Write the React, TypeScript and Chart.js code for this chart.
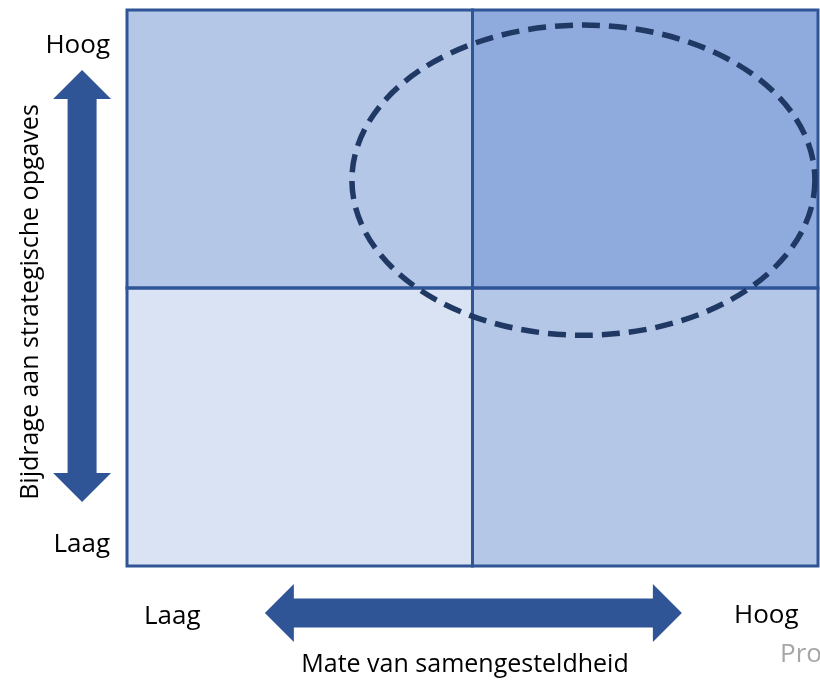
import React, { useEffect, useRef } from "react";
import { Chart, registerables } from "chart.js";

Chart.register(...registerables);

// ---- data ----
const xLevels = ["Laag", "Hoog"];
const yLevels = ["Laag", "Hoog"];
const xAxisTitle = "Mate van samengesteldheid";
const yAxisTitle = "Bijdrage aan strategische opgaves";
const footerText = "Pro";

// quadrant cells in matrix units (x from 0..2, y from 0..2)
const cellX0 = [0, 1, 0, 1];
const cellX1 = [1, 2, 1, 2];
const cellY0 = [1, 1, 0, 0];
const cellY1 = [2, 2, 1, 1];
const cellColors = ["#B4C7E7", "#8FAADC", "#DAE3F3", "#B4C7E7"];

// highlighted region (ellipse) in matrix units
const ellipseCenter = [1.321, 1.388];
const ellipseRadii = [0.67, 0.558];

// axis arrows in matrix units
const vArrowX = -0.13;
const vArrowEnds = [0.23, 1.784];
const hArrowY = -0.169;
const hArrowEnds = [0.399, 1.606];

const FONT = "25px 'Open Sans', 'Noto Sans', sans-serif";
const LABEL_FONT = "26px 'Open Sans', 'Noto Sans', sans-serif";
const ARROW_COLOR = "#2F5597";

const matrixPlugin = {
  id: "matrixPlugin",
  afterDraw(chart: any) {
    const ctx: CanvasRenderingContext2D = chart.ctx;
    const xs = chart.scales.x;
    const ys = chart.scales.y;
    const px = (v: number) => xs.getPixelForValue(v);
    const py = (v: number) => ys.getPixelForValue(v);

    ctx.save();
    // cells
    for (let i = 0; i < cellColors.length; i++) {
      const x0 = px(cellX0[i]);
      const x1 = px(cellX1[i]);
      const y0 = py(cellY1[i]);
      const y1 = py(cellY0[i]);
      ctx.fillStyle = cellColors[i];
      ctx.fillRect(x0, y0, x1 - x0, y1 - y0);
    }
    ctx.strokeStyle = "#2F5597";
    ctx.lineWidth = 3;
    for (let i = 0; i < cellColors.length; i++) {
      const x0 = px(cellX0[i]);
      const x1 = px(cellX1[i]);
      const y0 = py(cellY1[i]);
      const y1 = py(cellY0[i]);
      ctx.strokeRect(x0, y0, x1 - x0, y1 - y0);
    }

    // ellipse
    const cx = px(ellipseCenter[0]);
    const cy = py(ellipseCenter[1]);
    const rx = px(ellipseCenter[0] + ellipseRadii[0]) - cx;
    const ry = cy - py(ellipseCenter[1] + ellipseRadii[1]);
    ctx.beginPath();
    ctx.ellipse(cx, cy, rx, ry, 0, 0, Math.PI * 2);
    ctx.setLineDash([18, 9]);
    ctx.lineWidth = 5.5;
    ctx.strokeStyle = "#1F3864";
    ctx.stroke();
    ctx.setLineDash([]);

    // vertical double arrow
    const shaftHalf = 14.5;
    const headHalf = 29;
    const headLen = 29;
    ctx.fillStyle = ARROW_COLOR;
    {
      const ax = px(vArrowX);
      const yTop = py(vArrowEnds[1]);
      const yBot = py(vArrowEnds[0]);
      ctx.beginPath();
      ctx.moveTo(ax, yTop);
      ctx.lineTo(ax + headHalf, yTop + headLen);
      ctx.lineTo(ax + shaftHalf, yTop + headLen);
      ctx.lineTo(ax + shaftHalf, yBot - headLen);
      ctx.lineTo(ax + headHalf, yBot - headLen);
      ctx.lineTo(ax, yBot);
      ctx.lineTo(ax - headHalf, yBot - headLen);
      ctx.lineTo(ax - shaftHalf, yBot - headLen);
      ctx.lineTo(ax - shaftHalf, yTop + headLen);
      ctx.lineTo(ax - headHalf, yTop + headLen);
      ctx.closePath();
      ctx.fill();
    }
    // horizontal double arrow
    {
      const ay = py(hArrowY);
      const xL = px(hArrowEnds[0]);
      const xR = px(hArrowEnds[1]);
      ctx.beginPath();
      ctx.moveTo(xL, ay);
      ctx.lineTo(xL + headLen, ay - headHalf);
      ctx.lineTo(xL + headLen, ay - shaftHalf);
      ctx.lineTo(xR - headLen, ay - shaftHalf);
      ctx.lineTo(xR - headLen, ay - headHalf);
      ctx.lineTo(xR, ay);
      ctx.lineTo(xR - headLen, ay + headHalf);
      ctx.lineTo(xR - headLen, ay + shaftHalf);
      ctx.lineTo(xL + headLen, ay + shaftHalf);
      ctx.lineTo(xL + headLen, ay + headHalf);
      ctx.closePath();
      ctx.fill();
    }

    // texts
    const area = chart.chartArea;
    ctx.font = LABEL_FONT;
    ctx.fillStyle = "#000000";
    ctx.textBaseline = "alphabetic";
    // y-axis level labels
    ctx.textAlign = "right";
    ctx.fillText(yLevels[1], area.left - 17, area.top + 43);
    ctx.fillText(yLevels[0], area.left - 17, area.bottom - 14);
    // x-axis level labels
    ctx.textAlign = "left";
    ctx.fillText(xLevels[0], area.left + 17, area.bottom + 58);
    ctx.fillText(xLevels[1], area.left + 607, area.bottom + 57);
    // x title
    ctx.font = FONT;
    ctx.textAlign = "center";
    ctx.fillText(xAxisTitle, area.left + 338, area.bottom + 106);
    // y title
    ctx.save();
    ctx.translate(38, (area.top + area.bottom) / 2 + 14);
    ctx.rotate(-Math.PI / 2);
    ctx.textAlign = "center";
    ctx.fillText(yAxisTitle, 0, 0);
    ctx.restore();
    // cut-off footer text
    ctx.font = LABEL_FONT;
    ctx.textAlign = "left";
    ctx.fillStyle = "#A6A6A6";
    ctx.fillText(footerText, area.left + 653, area.bottom + 96);
    ctx.restore();
  },
};

export default function App() {
  const ref = useRef<HTMLCanvasElement | null>(null);
  useEffect(() => {
    if (!ref.current) return;
    const chart = new Chart(ref.current, {
      type: "scatter",
      data: { datasets: [{ data: [], pointRadius: 0 }] },
      options: {
        responsive: false,
        animation: false,
        devicePixelRatio: 1,
        layout: { padding: { left: 127, right: 2, top: 10, bottom: 121 } },
        scales: {
          x: { type: "linear", min: 0, max: 2, display: false },
          y: { type: "linear", min: 0, max: 2, display: false },
        },
        plugins: { legend: { display: false }, tooltip: { enabled: false } },
      },
      plugins: [matrixPlugin],
    });
    return () => chart.destroy();
  }, []);
  return (
    <div style={{ position: "fixed", left: 0, top: 0, width: 820, height: 687, background: "#ffffff" }}>
      <canvas ref={ref} width={820} height={687} style={{ display: "block" }} />
    </div>
  );
}
